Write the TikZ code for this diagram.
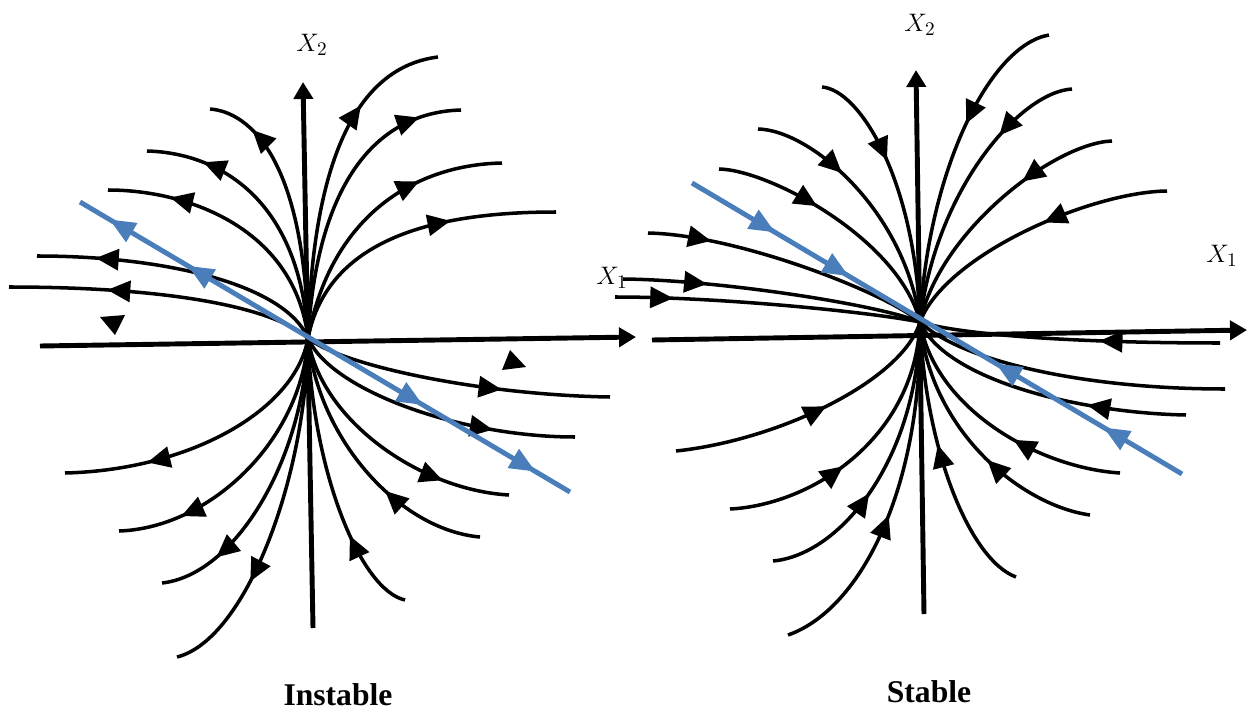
\documentclass[tikz,border=0pt]{standalone}
\usepackage{fontspec}
\setmainfont{Liberation Serif}
\usetikzlibrary{arrows.meta,decorations.markings}
\definecolor{blueline}{RGB}{74,126,187}
\tikzset{
  sl/.style={line width=2pt, black},
  ax/.style={line width=2.8pt, black, -{Triangle[length=0.34cm,width=0.38cm]}},
  bl/.style={line width=2.8pt, blueline},
  fw/.style={postaction={decorate,decoration={markings,mark=at position #1 with {\arrow{Triangle[length=0.46cm,width=0.42cm]}}}}},
  bw/.style={postaction={decorate,decoration={markings,mark=at position #1 with {\arrowreversed{Triangle[length=0.46cm,width=0.42cm]}}}}},
  bfw/.style={postaction={decorate,decoration={markings,mark=at position #1 with {\arrow{Triangle[length=0.52cm,width=0.42cm]}}}}},
  bbw/.style={postaction={decorate,decoration={markings,mark=at position #1 with {\arrowreversed{Triangle[length=0.52cm,width=0.42cm]}}}}},
  lab/.style={font=\fontsize{15}{18}\selectfont},
  ttl/.style={font=\fontsize{18}{22}\selectfont\bfseries}
}
\begin{document}
\begin{tikzpicture}[x=0.02cm,y=-0.02cm]
\useasboundingbox (0,0) rectangle (1249,710);
% ================= LEFT (Instable) =================
\coordinate (OL) at (308,338);
% upper right
\draw[sl,fw=0.72] (OL) .. controls (313,141) and (366,66) .. (438,57);
\draw[sl,fw=0.86] (OL) .. controls (318,170) and (385,112) .. (461,110);
\draw[sl,fw=0.7] (OL) .. controls (330,220) and (410,165) .. (502,163);
\draw[sl,fw=0.65] (OL) .. controls (328,238) and (436,212) .. (556,212);
% upper left
\draw[sl,fw=0.82] (OL) .. controls (305,160) and (250,112) .. (210,109);
\draw[sl,fw=0.79] (OL) .. controls (300,200) and (220,153) .. (147,151);
\draw[sl,fw=0.77] (OL) .. controls (295,230) and (190,190) .. (108,190);
\draw[sl,fw=0.8] (OL) .. controls (285,285) and (167,256) .. (37,256);
\draw[sl,fw=0.68] (OL) .. controls (270,305) and (159,287) .. (9,287);
% lower left
\draw[sl,fw=0.72] (OL) .. controls (296,410) and (190,470) .. (65,473);
\draw[sl,fw=0.78] (OL) .. controls (302,440) and (210,528) .. (119,531);
\draw[sl,fw=0.8] (OL) .. controls (304,460) and (235,575) .. (162,583);
\draw[sl,fw=0.7] (OL) .. controls (306,480) and (245,640) .. (177,657);
% lower right
\draw[sl,fw=0.65] (OL) .. controls (340,365) and (480,395) .. (610,397);
\draw[sl,fw=0.72] (OL) .. controls (330,390) and (460,437) .. (575,437);
\draw[sl,fw=0.75] (OL) .. controls (320,420) and (420,490) .. (509,495);
\draw[sl,bw=0.62] (OL) .. controls (318,440) and (400,530) .. (480,537);
\draw[sl,bw=0.7] (OL) .. controls (312,470) and (360,590) .. (405,600);
% lone arrowheads
\fill (100,317) -- (125,315) -- (115,335) -- cycle;
\fill (502,370) -- (510,350) -- (526,367) -- cycle;
% axes
\coordinate (LxA) at (40,346); \coordinate (LxB) at (636,337);
\coordinate (LyA) at (313,628); \coordinate (LyB) at (303,82);
\draw[ax] (LxA) -- (LxB);
\draw[ax] (LyA) -- (LyB);
% blue line
\coordinate (LbA) at (80,202); \coordinate (LbB) at (570,492);
\draw[bl,bbw=0.06,bbw=0.22,bfw=0.7,bfw=0.93] (LbA) -- (LbB);
\node[lab] (lx2) at (312,45) {$X_2$};
\node[lab] (lx1) at (612,278) {$X_1$};
\node[ttl] (t1) at (338,695) {Instable};
% ================= RIGHT (Stable) =================
\coordinate (OR) at (920,322);
% upper right
\draw[sl,bw=0.62] (OR) .. controls (928,170) and (990,45) .. (1049,35);
\draw[sl,bw=0.7] (OR) .. controls (935,190) and (1020,92) .. (1072,89);
\draw[sl,bw=0.64] (OR) .. controls (940,230) and (1055,143) .. (1112,141);
\draw[sl,bw=0.56] (OR) .. controls (945,255) and (1090,192) .. (1167,191);
% upper left
\draw[sl,bw=0.62] (OR) .. controls (915,180) and (860,90) .. (822,87);
\draw[sl,bw=0.64] (OR) .. controls (905,210) and (810,130) .. (758,129);
\draw[sl,bw=0.6] (OR) .. controls (900,240) and (770,170) .. (719,169);
\draw[sl,bw=0.78] (OR) .. controls (890,295) and (740,235) .. (648,233);
\draw[sl,bw=0.72] (OR) .. controls (880,305) and (720,280) .. (623,279);
\draw[sl,bw=0.81] (OR) .. controls (870,312) and (720,297) .. (615,297);
% lower left
\draw[sl,bw=0.45] (OR) .. controls (903,380) and (780,440) .. (676,451);
\draw[sl,bw=0.58] (OR) .. controls (915,440) and (810,505) .. (730,509);
\draw[sl,bw=0.6] (OR) .. controls (918,460) and (840,555) .. (773,561);
\draw[sl,bw=0.55] (OR) .. controls (922,490) and (860,610) .. (788,635);
% lower right
\draw[sl,bw=0.6] (OR) .. controls (960,335) and (1080,343) .. (1220,343);
\draw[sl] (OR) .. controls (960,360) and (1080,389) .. (1225,389);
\draw[sl,bw=0.66] (OR) .. controls (945,380) and (1080,413) .. (1186,415);
\draw[sl,bw=0.58] (OR) .. controls (935,410) and (1040,468) .. (1120,473);
\draw[sl,bw=0.57] (OR) .. controls (930,430) and (1020,505) .. (1090,515);
\draw[sl,bw=0.44] (OR) .. controls (925,450) and (970,560) .. (1016,577);
% axes
\coordinate (RxA) at (652,340); \coordinate (RxB) at (1247,330);
\coordinate (RyA) at (924,614); \coordinate (RyB) at (916,70);
\draw[ax] (RxA) -- (RxB);
\draw[ax] (RyA) -- (RyB);
% blue line
\coordinate (RbA) at (692,183); \coordinate (RbB) at (1182,474);
\draw[bl,bfw=0.17,bfw=0.32,bbw=0.62,bbw=0.84] (RbA) -- (RbB);
\node[lab] (rx2) at (920,25) {$X_2$};
\node[lab] (rx1) at (1222,256) {$X_1$};
\node[ttl] (t2) at (929,692) {Stable};
\end{tikzpicture}
\end{document}
